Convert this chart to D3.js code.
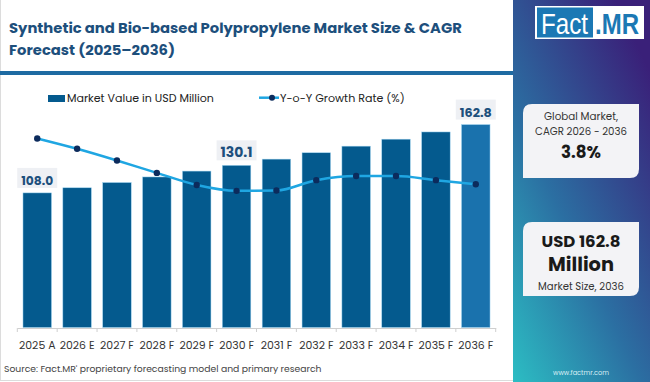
<!DOCTYPE html>
<html><head><meta charset="utf-8">
<script src="https://cdn.jsdelivr.net/npm/d3@7"></script>
<style>html,body{margin:0;padding:0;background:#fff;overflow:hidden}svg{display:block}</style>
</head><body>
<svg id="c" width="650" height="382"></svg>
<script>
// ---------- data ----------
const categories = ["2025 A","2026 E","2027 F","2028 F","2029 F","2030 F","2031 F","2032 F","2033 F","2034 F","2035 F","2036 F"];
const marketValues = [108.0,112.1,116.3,120.8,125.5,130.1,135.1,140.2,145.5,151.1,156.9,162.8];
const growthRates = [4.60,4.30,3.96,3.60,3.25,3.08,3.09,3.39,3.51,3.51,3.39,3.27];
const labelled = ["2025 A","2030 F","2036 F"];
const titleLines = ["Synthetic and Bio-based Polypropylene Market Size & CAGR","Forecast (2025\u20132036)"];
const legendLabels = ["Market Value in USD Million","Y-o-Y Growth Rate (%)"];
const sourceText = "Source: Fact.MR' proprietary forecasting model and primary research";
const cagrCard = ["Global Market,","CAGR 2026 - 2036","3.8%"];
const sizeCard = ["USD 162.8","Million","Market Size, 2036"];

const FONT = "'Poppins','Open Sans','Noto Sans',sans-serif";
const svg = d3.select("#c").style("font-family", FONT);

// scale a text's font size so that its width matches a target width
function fit(sel, target, base){
  sel.style("font-size", base+"px");
  const w = sel.node().getComputedTextLength();
  const f = base*target/w;
  sel.style("font-size", f+"px");
  return f;
}

// ---------- right panel ----------
const defs = svg.append("defs");
const g1 = defs.append("linearGradient").attr("id","pg").attr("x1","0").attr("y1","1").attr("x2","0.75").attr("y2","0");
g1.append("stop").attr("offset","0").attr("stop-color","#2cbdc3");
g1.append("stop").attr("offset","0.45").attr("stop-color","#2b6fa2");
g1.append("stop").attr("offset","1").attr("stop-color","#3a2079");
svg.append("rect").attr("x",513).attr("y",0).attr("width",137).attr("height",382).attr("fill","url(#pg)");

// white panel borders
svg.append("line").attr("x1",0.5).attr("x2",0.5).attr("y1",0).attr("y2",381).attr("stroke","#dcdcdc");
svg.append("line").attr("x1",0).attr("x2",513).attr("y1",380.5).attr("y2",380.5).attr("stroke","#dcdcdc");

// logo
svg.append("rect").attr("x",535).attr("y",6).attr("width",109).attr("height",33).attr("fill","#fff");
svg.append("rect").attr("x",537).attr("y",7.5).attr("width",56).attr("height",30).attr("fill","#1b78b4");
svg.append("text").attr("x",564.5).attr("y",34).attr("text-anchor","middle").attr("fill","#fff")
  .style("font-family","'Liberation Sans','DejaVu Sans',sans-serif").style("font-size","30px")
  .attr("textLength",47).attr("lengthAdjust","spacingAndGlyphs").text("Fact");
svg.append("text").attr("x",617).attr("y",34).attr("text-anchor","middle").attr("fill","#1b78b4")
  .style("font-family","'Liberation Sans','DejaVu Sans',sans-serif").style("font-size","30px").style("font-weight","bold")
  .attr("textLength",44).attr("lengthAdjust","spacingAndGlyphs").text(".MR");

// cards
function leaf(x,y,w,h,r){
  return `M${x+r},${y} H${x+w} V${y+h-r} Q${x+w},${y+h} ${x+w-r},${y+h} H${x} V${y+r} Q${x},${y} ${x+r},${y} Z`;
}
svg.append("path").attr("d",leaf(523,104,116,74,9)).attr("fill","#f3f3f6");
svg.append("path").attr("d",leaf(523,222,116,74,9)).attr("fill","#f3f3f6");
const cx = 581;
fit(svg.append("text").attr("x",cx).attr("y",120).attr("text-anchor","middle").attr("fill","#333").text(cagrCard[0]),74,11);
fit(svg.append("text").attr("x",cx).attr("y",135).attr("text-anchor","middle").attr("fill","#333").text(cagrCard[1]),92,11);
fit(svg.append("text").attr("x",cx).attr("y",158).attr("text-anchor","middle").attr("fill","#1a1a1a").style("font-weight","bold").text(cagrCard[2]),40,16);
fit(svg.append("text").attr("x",cx).attr("y",247).attr("text-anchor","middle").attr("fill","#1a1a1a").style("font-weight","bold").text(sizeCard[0]),79,16);
fit(svg.append("text").attr("x",cx).attr("y",271).attr("text-anchor","middle").attr("fill","#1a1a1a").style("font-weight","bold").text(sizeCard[1]),66,16);
fit(svg.append("text").attr("x",cx).attr("y",290).attr("text-anchor","middle").attr("fill","#333").text(sizeCard[2]),86,11);
fit(svg.append("text").attr("x",cx).attr("y",375).attr("text-anchor","middle").attr("fill","#d6eef4").text("www.factmr.com"),56,8);

// ---------- title ----------
const t1 = svg.append("text").attr("x",9).attr("y",33).attr("fill","#1d4f7c").style("font-weight","bold").text(titleLines[0]);
const fs = fit(t1,453,16);
svg.append("text").attr("x",9).attr("y",55).attr("fill","#1d4f7c").style("font-weight","bold").style("font-size",fs+"px").text(titleLines[1]);
svg.append("rect").attr("x",0).attr("y",71).attr("width",513).attr("height",4).attr("fill","#1e6ba2");

// ---------- legend ----------
svg.append("rect").attr("x",48).attr("y",95).attr("width",17).attr("height",7).attr("fill","#045a8e");
fit(svg.append("text").attr("x",67).attr("y",101.5).attr("fill","#222").text(legendLabels[0]),147,12);
svg.append("line").attr("x1",259).attr("x2",279).attr("y1",97.7).attr("y2",97.7).attr("stroke","#1fa6e2").attr("stroke-width",2.5);
svg.append("circle").attr("cx",272).attr("cy",97.7).attr("r",3).attr("fill","#0c2b5c");
fit(svg.append("text").attr("x",280).attr("y",101.5).attr("fill","#222").text(legendLabels[1]),125,12);

// ---------- scales ----------
const x = d3.scaleBand().domain(categories).range([17.3,495.7]).padding(0);
const bw = x.bandwidth();
const barW = bw*0.715;
const y = d3.scaleLinear().domain([0,170]).range([327.5, 327.5-170*1.2463]);
const yg = d3.scaleLinear().domain([0,5]).range([297,124.65]);

// bars
svg.append("g").selectAll("rect").data(categories).join("rect")
  .attr("x",d=>x(d)+(bw-barW)/2).attr("width",barW)
  .attr("y",(d,i)=>y(marketValues[i])).attr("height",(d,i)=>y(0)-y(marketValues[i]))
  .attr("fill",(d,i)=>i===categories.length-1?"#1a72ad":"#045a8e")
  .attr("stroke","#9fd3f0").attr("stroke-width",0.5);

// axis
const ax = svg.append("g").attr("transform","translate(0,328)")
  .call(d3.axisBottom(x).tickSize(0));
ax.select(".domain").attr("stroke","#cfcfcf");
const tl = ax.selectAll("text").attr("fill","#333").style("font-family",FONT).attr("dy",null).attr("y",21);
const probe = tl.filter((d,i)=>i===0);
const tfs = fit(probe,36.5,12);
tl.style("font-size",tfs+"px");
const bounds = categories.map(d=>x(d)).concat([x.range()[1]]);
ax.selectAll("line.bt").data(bounds).join("line").attr("class","bt")
  .attr("x1",d=>d).attr("x2",d=>d).attr("y1",0).attr("y2",4).attr("stroke","#cfcfcf");

// growth line
const line = d3.line().x((d,i)=>x(categories[i])+bw/2).y(d=>yg(d)).curve(d3.curveMonotoneX);
svg.append("path").datum(growthRates).attr("d",line).attr("fill","none").attr("stroke","#1fa6e2").attr("stroke-width",2.5);
svg.append("g").selectAll("circle").data(growthRates).join("circle")
  .attr("cx",(d,i)=>x(categories[i])+bw/2).attr("cy",d=>yg(d)).attr("r",3.2).attr("fill","#0c2b5c");

// value labels
categories.forEach((c,i)=>{
  if(!labelled.includes(c)) return;
  const cxl = x(c)+bw/2, top = y(marketValues[i]);
  const g = svg.append("g");
  const t = g.append("text").attr("x",cxl).attr("y",top-8).attr("text-anchor","middle").attr("fill","#1d4f7c")
    .style("font-weight","bold").text(marketValues[i].toFixed(1));
  fit(t,32,13);
  const tw = t.node().getComputedTextLength();
  g.insert("rect","text").attr("x",cxl-tw/2-4).attr("y",top-25).attr("width",tw+8).attr("height",20).attr("fill","#eef0f4");
});

// source
fit(svg.append("text").attr("x",4).attr("y",372).attr("fill","#444").text(sourceText),318,10);
</script>
</body></html>
